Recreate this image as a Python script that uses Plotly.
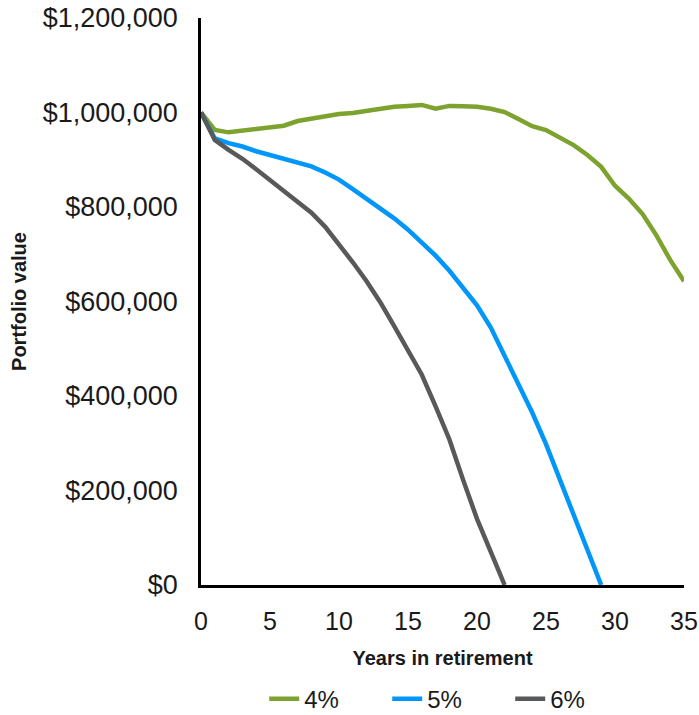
import plotly.graph_objects as go

years_4 = list(range(0, 36))
values_4 = [1000, 963, 958, 961, 964, 968, 972, 982, 987, 993, 997, 999, 1003, 1009, 1012, 1014,
            1016, 1008, 1014, 1013, 1012, 1008, 1001, 986, 971, 963, 948, 931, 910, 885, 845,
            818, 785, 740, 688, 643]
years_5 = list(range(0, 30))
values_5 = [1000, 945, 935, 928, 918, 910, 900, 893, 886, 873, 858, 838, 818, 798, 776, 752,
            726, 697, 665, 630, 592, 545, 485, 425, 365, 298, 222, 148, 70, 0]
years_6 = list(range(0, 23))
values_6 = [1000, 942, 921, 902, 880, 857, 836, 812, 788, 758, 722, 683, 643, 598, 548, 498,
            445, 378, 308, 222, 140, 70, 0]

series = [("4%", years_4, values_4, "#7DA32E"),
          ("5%", years_5, values_5, "#0096FA"),
          ("6%", years_6, values_6, "#58595B")]

FONT = "Liberation Sans"
fig = go.Figure()
for name, xs, vs, color in series:
    fig.add_trace(go.Scatter(x=xs, y=[v * 1000 for v in vs], mode="lines", name=name,
                             line=dict(color=color, width=4.5), cliponaxis=False))

fig.update_layout(
    width=699, height=715,
    margin=dict(l=201, r=15, t=18, b=130),
    paper_bgcolor="white", plot_bgcolor="white",
    font=dict(family=FONT, size=27, color="#1a1a1a"),
    showlegend=True,
    legend=dict(orientation="h", xref="container", x=0.378, xanchor="left",
                yref="container", y=0.022, yanchor="middle",
                font=dict(size=24), entrywidth=78, entrywidthmode="pixels",
                traceorder="normal"),
    xaxis=dict(range=[0, 35], dtick=5, showgrid=False, zeroline=False, automargin=False,
               showline=True, linecolor="black", linewidth=2.5, ticks="",
               ticklabelstandoff=12, tickfont=dict(size=25),
               title=dict(text="<b>Years in retirement</b>", font=dict(size=20), standoff=18)),
    yaxis=dict(range=[0, 1200000], dtick=200000, tickformat="$,.0f", showgrid=False,
               zeroline=False, showline=True, linecolor="black", linewidth=2.5, ticks="",
               automargin=False, ticklabelstandoff=15,
               title=dict(text="<b>Portfolio value</b>", font=dict(size=20), standoff=11)),
)

# remove the default page margin so the 699x715 figure fills the window exactly
fig.write_html("out.html", config={"displayModeBar": False},
               post_script="document.body.style.margin='0';")
